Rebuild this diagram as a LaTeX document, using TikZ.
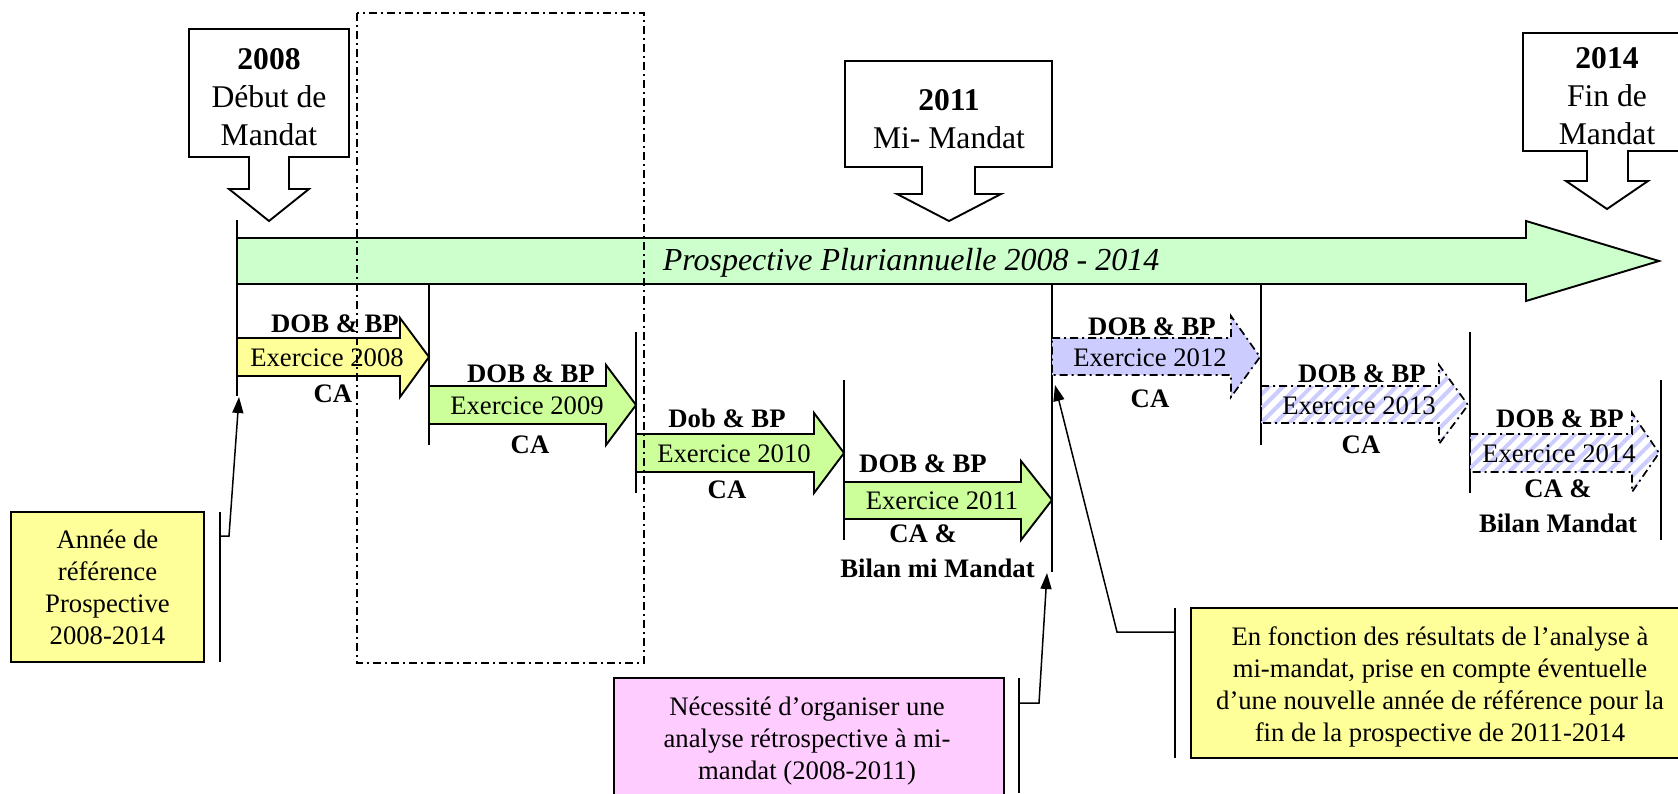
\documentclass[tikz,border=0pt]{standalone}
\usepackage{fontspec}
\setmainfont{Liberation Serif}
\usetikzlibrary{patterns.meta,arrows.meta}
\definecolor{bigg}{HTML}{CCFFCC}
\definecolor{yel}{HTML}{FFFF99}
\definecolor{exg}{HTML}{CCFF99}
\definecolor{blu}{HTML}{CCCCFF}
\definecolor{pnk}{HTML}{FFCCFF}
\tikzset{
  shapeline/.style={draw=black,line width=1.9pt,line join=miter},
  dashline/.style={draw=black,line width=1.7pt,dash pattern=on 8pt off 4pt on 2pt off 4pt},
  hatchfill/.style={pattern={Lines[angle=45,distance=10pt,line width=4pt]},pattern color=blu},
  vline/.style={line width=1.5pt},
  lbl/.style={font=\fontsize{26.7}{35}\selectfont\bfseries,inner sep=0pt,anchor=base},
  lbltwo/.style={font=\fontsize{26.7}{35}\selectfont\bfseries,inner sep=0pt,anchor=north,align=center},
  extxt/.style={font=\fontsize{26.7}{32}\selectfont,inner sep=0pt,anchor=base},
  calltxt/.style={font=\fontsize{31.6}{38}\selectfont,align=center,inner sep=0pt,anchor=north},
  notetxt/.style={font=\fontsize{26.7}{32}\selectfont,align=center,inner sep=0pt,anchor=north},
  conn/.style={line width=1.5pt,-{Triangle[length=16pt,width=11pt]}},
}
\begin{document}
\begin{tikzpicture}[x=1pt,y=-1pt]
\useasboundingbox (0,0) rectangle (1678,793);
\clip (0,0) rectangle (1678,793);

% callouts
\draw[shapeline,fill=white] (189,29) -- (349,29) -- (349,157) -- (289,157) -- (289,189) -- (309,189) -- (269,221) -- (229,189) -- (249,189) -- (249,157) -- (189,157) -- cycle;
\node[calltxt] (c2008) at (269,48.5) {\textbf{2008}\\Début de\\Mandat};
\draw[shapeline,fill=white] (845,61) -- (1052,61) -- (1052,167) -- (975,167) -- (975,194) -- (1001,194) -- (949,221) -- (897,194) -- (922,194) -- (922,167) -- (845,167) -- cycle;
\node[calltxt] (c2011) at (949,89) {\textbf{2011}\\Mi- Mandat};
\draw[shapeline,fill=white] (1523,33) -- (1695,33) -- (1695,151) -- (1628,151) -- (1628,181) -- (1648,181) -- (1607,209) -- (1566,181) -- (1587,181) -- (1587,151) -- (1523,151) -- cycle;
\node[calltxt] (c2014) at (1607,47.5) {\textbf{2014}\\Fin de\\Mandat};

% big arrow
\draw[shapeline,fill=bigg] (237,238) -- (1526,238) -- (1526,221) -- (1659,261) -- (1526,301) -- (1526,284) -- (237,284) -- cycle;
\node[font=\fontsize{32}{38}\selectfont\itshape,inner sep=0pt,anchor=base] (prosp) at (911,270) {Prospective Pluriannuelle 2008 - 2014};

% vertical lines
\draw[vline] (237,220) -- (237,396);
\draw[vline] (429,284) -- (429,445);
\draw[vline] (636,332) -- (636,493);
\draw[vline] (844,380) -- (844,540);
\draw[vline] (1052,284) -- (1052,572);
\draw[vline] (1261,284) -- (1261,445);
\draw[vline] (1470,332) -- (1470,493);
\draw[vline] (1661,380) -- (1661,540);

% exercise arrows
\draw[shapeline,fill=yel] (237,338) -- (400,338) -- (400,318) -- (429,357) -- (400,397) -- (400,376) -- (237,376) -- cycle;
\draw[shapeline,fill=exg] (429,386) -- (606,386) -- (606,365) -- (636,405) -- (606,445) -- (606,424) -- (429,424) -- cycle;
\draw[shapeline,fill=exg] (636,434) -- (814,434) -- (814,413) -- (844,453) -- (814,493) -- (814,472) -- (636,472) -- cycle;
\draw[shapeline,fill=exg] (844,482) -- (1021,482) -- (1021,461) -- (1052,500) -- (1021,540) -- (1021,519) -- (844,519) -- cycle;
\fill[blu] (1052,338) -- (1231,338) -- (1231,316) -- (1260,357) -- (1231,397) -- (1231,375) -- (1052,375) -- cycle;
\draw[dashline] (1052,338) -- (1231,338) -- (1231,316) -- (1260,357) -- (1231,397) -- (1231,375) -- (1052,375) -- cycle;
\fill[hatchfill] (1261,386) -- (1439,386) -- (1439,365) -- (1468,405) -- (1439,444) -- (1439,423) -- (1261,423) -- cycle;
\draw[dashline] (1261,386) -- (1439,386) -- (1439,365) -- (1468,405) -- (1439,444) -- (1439,423) -- (1261,423) -- cycle;
\fill[hatchfill] (1470,434) -- (1632,434) -- (1632,413) -- (1659,453) -- (1632,492) -- (1632,472) -- (1470,472) -- cycle;
\draw[dashline] (1470,434) -- (1632,434) -- (1632,413) -- (1659,453) -- (1632,492) -- (1632,472) -- (1470,472) -- cycle;

% exercise texts
\node[extxt] (e2008) at (327,366) {Exercice 2008};
\node[lbl] (d2008) at (335,332) {DOB \& BP};
\node[lbl] (ca2008) at (333,402) {CA};
\node[extxt] (e2009) at (527,414) {Exercice 2009};
\node[lbl] (d2009) at (531,382) {DOB \& BP};
\node[lbl] (ca2009) at (530,453) {CA};
\node[extxt] (e2010) at (734,462) {Exercice 2010};
\node[lbl] (d2010) at (727,427) {Dob \& BP};
\node[lbl] (ca2010) at (727,498) {CA};
\node[extxt] (e2011) at (942,509) {Exercice 2011};
\node[lbl] (d2011) at (923,472) {DOB \& BP};
\node[lbltwo] (ca2011) at (937.5,524.6) {CA \&\hspace*{29pt}\\Bilan mi Mandat};
\node[extxt] (e2012) at (1150,366) {Exercice 2012};
\node[lbl] (d2012) at (1152,335) {DOB \& BP};
\node[lbl] (ca2012) at (1150,407) {CA};
\node[extxt] (e2013) at (1359,414) {Exercice 2013};
\node[lbl] (d2013) at (1362,382) {DOB \& BP};
\node[lbl] (ca2013) at (1361,453) {CA};
\node[extxt] (e2014) at (1559,462) {Exercice 2014};
\node[lbl] (d2014) at (1560,427) {DOB \& BP};
\node[lbltwo] (ca2014) at (1558,479.6) {CA \&\\Bilan Mandat};

% note boxes
\draw[shapeline,fill=yel] (11,512) rectangle (204,662);
\node[notetxt] (ref) at (107.5,530) {Année de\\référence\\Prospective\\2008-2014};
\draw[shapeline,fill=pnk] (614,678) rectangle (1004,800);
\node[notetxt] (pink) at (807,697) {Nécessité d’organiser une\\analyse rétrospective à mi-\\mandat (2008-2011)};
\draw[shapeline,fill=yel] (1191,608) rectangle (1700,758);
\node[notetxt] (fin) at (1440,626) {En fonction des résultats de l’analyse à\\mi-mandat, prise en compte éventuelle\\d’une nouvelle année de référence pour la\\fin de la prospective de 2011-2014};

% brackets
\draw[vline] (220,512) -- (220,662);
\draw[vline] (1019,678) -- (1019,793);
\draw[vline] (1175,608) -- (1175,758);

% connectors
\coordinate (refb) at (220,536);
\coordinate (refk) at (229,536);
\coordinate (reft) at (239,397);
\draw[conn] (refb) -- (refk) -- (reft);
\coordinate (pnkb) at (1019,703);
\coordinate (pnkk) at (1039,703);
\coordinate (pnkt) at (1047,573);
\draw[conn] (pnkb) -- (pnkk) -- (pnkt);
\coordinate (finb) at (1175,632);
\coordinate (fink) at (1117,632);
\coordinate (fint) at (1055,385);
\draw[conn] (finb) -- (fink) -- (fint);

% dash-dot frame
\draw[dashline] (357,13) rectangle (644,663);
\end{tikzpicture}
\end{document}
